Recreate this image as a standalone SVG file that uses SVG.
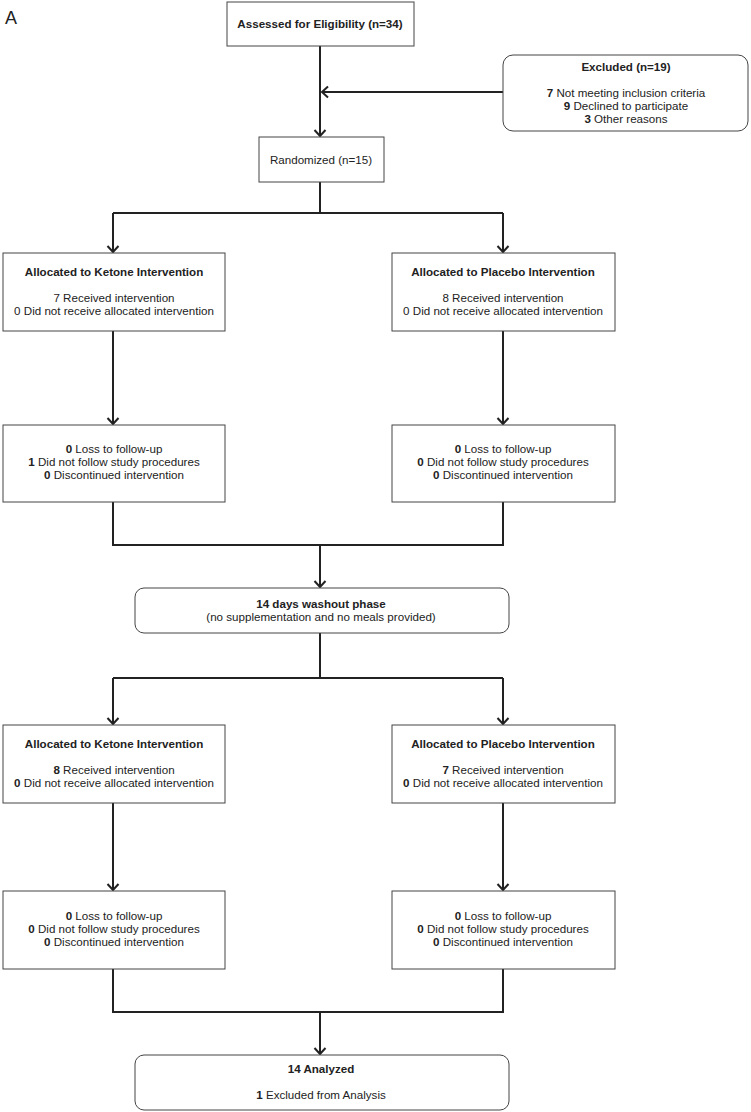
<svg xmlns="http://www.w3.org/2000/svg" width="751" height="1112" viewBox="0 0 751 1112">
<style>
.box{fill:#fff;stroke:#444;stroke-width:1}
.t{font-family:"Liberation Sans",Arial,sans-serif;font-size:11.6px;fill:#222;text-anchor:middle}
.b{font-weight:bold}
.c{fill:none;stroke:#222;stroke-width:2}
</style>
<defs>
<marker id="ah" markerUnits="userSpaceOnUse" markerWidth="14" markerHeight="14" viewBox="-8 -7 10 14" refX="0" refY="0" orient="auto">
<path d="M-6,-5.5 L0,0 L-6,5.5" fill="none" stroke="#222" stroke-width="2"/>
</marker>
</defs>
<rect width="751" height="1112" fill="#fff"/>
<text x="5" y="24" font-family="Liberation Sans,Arial,sans-serif" font-size="18" fill="#222">A</text>
<g id="connectors">
<path class="c" d="M320,46 V136" marker-end="url(#ah)"/>
<path class="c" d="M503,92 H322" marker-end="url(#ah)"/>
<path class="c" d="M320,182 V213 M113,213 H503"/>
<path class="c" d="M113,213 V252" marker-end="url(#ah)"/>
<path class="c" d="M503,213 V252" marker-end="url(#ah)"/>
<path class="c" d="M113,331 V424" marker-end="url(#ah)"/>
<path class="c" d="M503,331 V424" marker-end="url(#ah)"/>
<path class="c" d="M113,502 V545 H503 V502"/>
<path class="c" d="M320,545 V587" marker-end="url(#ah)"/>
<path class="c" d="M320,633 V678 M113,678 H503"/>
<path class="c" d="M113,678 V724" marker-end="url(#ah)"/>
<path class="c" d="M503,678 V724" marker-end="url(#ah)"/>
<path class="c" d="M113,803 V890" marker-end="url(#ah)"/>
<path class="c" d="M503,803 V890" marker-end="url(#ah)"/>
<path class="c" d="M113,969 V1012 H503 V969"/>
<path class="c" d="M320,1012 V1054" marker-end="url(#ah)"/>
</g>
<g id="assessed">
<rect class="box" x="227" y="2" width="187" height="44"/>
<text class="t b" x="320" y="28">Assessed for Eligibility (n=34)</text>
</g>
<g id="excluded">
<rect class="box" x="503" y="55" width="245" height="76" rx="10"/>
<text class="t b" x="626" y="71">Excluded (n=19)</text>
<text class="t" x="626" y="97"><tspan class="b">7</tspan> Not meeting inclusion criteria</text>
<text class="t" x="626" y="110"><tspan class="b">9</tspan> Declined to participate</text>
<text class="t" x="626" y="123"><tspan class="b">3</tspan> Other reasons</text>
</g>
<g id="randomized">
<rect class="box" x="259" y="137" width="125" height="45"/>
<text class="t" x="321" y="164">Randomized (n=15)</text>
</g>
<g id="alloc-ketone-1">
<rect class="box" x="3" y="253" width="222" height="78"/>
<text class="t b" x="114" y="276">Allocated to Ketone Intervention</text>
<text class="t" x="114" y="302">7 Received intervention</text>
<text class="t" x="114" y="315">0 Did not receive allocated intervention</text>
</g>
<g id="alloc-placebo-1">
<rect class="box" x="392" y="253" width="223" height="78"/>
<text class="t b" x="503" y="276">Allocated to Placebo Intervention</text>
<text class="t" x="503" y="302">8 Received intervention</text>
<text class="t" x="503" y="315">0 Did not receive allocated intervention</text>
</g>
<g id="followup-ketone-1">
<rect class="box" x="3" y="425" width="222" height="77"/>
<text class="t" x="114" y="453"><tspan class="b">0</tspan> Loss to follow-up</text>
<text class="t" x="114" y="466"><tspan class="b">1</tspan> Did not follow study procedures</text>
<text class="t" x="114" y="479"><tspan class="b">0</tspan> Discontinued intervention</text>
</g>
<g id="followup-placebo-1">
<rect class="box" x="392" y="425" width="223" height="77"/>
<text class="t" x="503" y="453"><tspan class="b">0</tspan> Loss to follow-up</text>
<text class="t" x="503" y="466"><tspan class="b">0</tspan> Did not follow study procedures</text>
<text class="t" x="503" y="479"><tspan class="b">0</tspan> Discontinued intervention</text>
</g>
<g id="washout">
<rect class="box" x="135" y="588" width="374" height="45" rx="9"/>
<text class="t b" x="321" y="608">14 days washout phase</text>
<text class="t" x="321" y="621">(no supplementation and no meals provided)</text>
</g>
<g id="alloc-ketone-2">
<rect class="box" x="3" y="725" width="222" height="78"/>
<text class="t b" x="114" y="748">Allocated to Ketone Intervention</text>
<text class="t" x="114" y="774"><tspan class="b">8</tspan> Received intervention</text>
<text class="t" x="114" y="787"><tspan class="b">0</tspan> Did not receive allocated intervention</text>
</g>
<g id="alloc-placebo-2">
<rect class="box" x="392" y="725" width="223" height="78"/>
<text class="t b" x="503" y="748">Allocated to Placebo Intervention</text>
<text class="t" x="503" y="774"><tspan class="b">7</tspan> Received intervention</text>
<text class="t" x="503" y="787"><tspan class="b">0</tspan> Did not receive allocated intervention</text>
</g>
<g id="followup-ketone-2">
<rect class="box" x="3" y="891" width="222" height="78"/>
<text class="t" x="114" y="920"><tspan class="b">0</tspan> Loss to follow-up</text>
<text class="t" x="114" y="933"><tspan class="b">0</tspan> Did not follow study procedures</text>
<text class="t" x="114" y="946"><tspan class="b">0</tspan> Discontinued intervention</text>
</g>
<g id="followup-placebo-2">
<rect class="box" x="392" y="891" width="223" height="78"/>
<text class="t" x="503" y="920"><tspan class="b">0</tspan> Loss to follow-up</text>
<text class="t" x="503" y="933"><tspan class="b">0</tspan> Did not follow study procedures</text>
<text class="t" x="503" y="946"><tspan class="b">0</tspan> Discontinued intervention</text>
</g>
<g id="analyzed">
<rect class="box" x="135" y="1055" width="374" height="55" rx="9"/>
<text class="t b" x="321" y="1073">14 Analyzed</text>
<text class="t" x="321" y="1099"><tspan class="b">1</tspan> Excluded from Analysis</text>
</g>
</svg>
